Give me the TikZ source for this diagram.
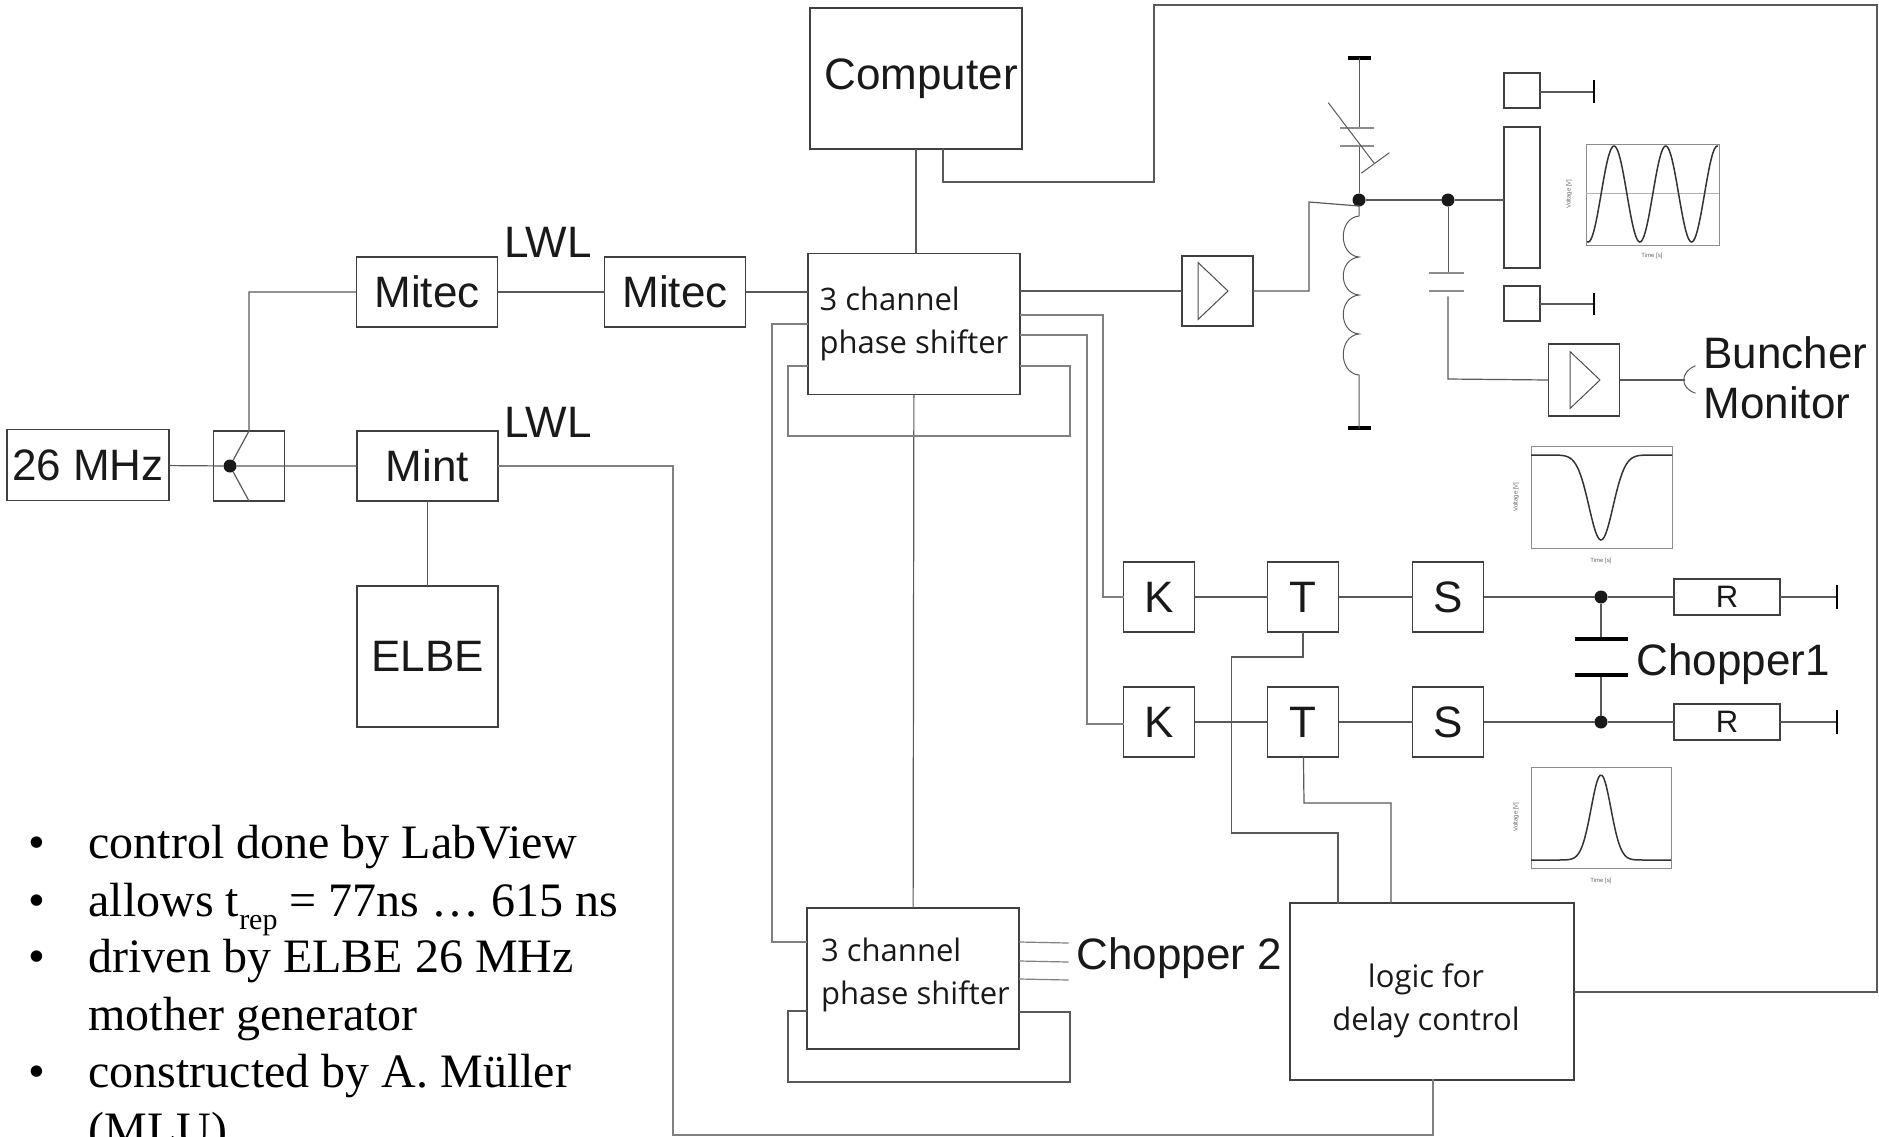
\documentclass[tikz,border=0pt]{standalone}
\usepackage{fontspec}
\setmainfont{Liberation Sans}
\newfontfamily\listfont{Liberation Serif}
\newfontfamily\boxfont{Open Sans}
\usetikzlibrary{positioning}

\begin{document}
\begin{tikzpicture}[x=1pt,y=-1pt,
  line width=1.2pt,
  wire/.style={draw=black!65,line cap=rect},
  graywire/.style={draw=black!50,line cap=rect},
  blk/.style={rectangle,draw=black!75,inner sep=0pt,text=black!90,font=\fontsize{44}{50}\selectfont},
  sbox/.style={blk,minimum width=71pt,minimum height=70pt},
  mbox/.style={blk,minimum width=141pt,minimum height=70pt},
  rbox/.style={blk,minimum width=106pt,minimum height=36pt,font=\fontsize{31}{36}\selectfont},
  psbox/.style={blk,minimum width=212pt,minimum height=141pt,align=left,font=\boxfont\fontsize{31}{43}\selectfont},
  boxtxt/.style={inner sep=0pt,text=black!90,font=\boxfont\fontsize{31}{43}\selectfont},
  lbl/.style={inner sep=0pt,anchor=base west,text=black!90,font=\fontsize{44}{50}\selectfont},
  item/.style={inner sep=0pt,anchor=base west,font=\listfont\fontsize{48}{58}\selectfont},
  jdot/.style={circle,fill=black!90,inner sep=0pt,minimum size=13pt},
  bar/.style={draw=black,line width=3.5pt},
  plate/.style={draw=black!45,line width=2pt},
  frm/.style={draw=black!45,line width=1pt},
  crv/.style={draw=black!80,line width=1.5pt},
  tick/.style={inner sep=0pt,text=black!60,font=\fontsize{6}{6}\selectfont}
]
  \clip (0,0) rectangle (1879,1136);

  % left part
  \node[blk,minimum width=162pt,minimum height=71pt] (Gen) at (88,465) {26 MHz};
  \node[sbox] (Split) at (249,466) {};
  \node[mbox] (Mint) at (427.5,466) {Mint};
  \node[blk,minimum width=141pt,minimum height=141pt] (Elbe) at (427.5,656.5) {ELBE};
  \node[mbox] (MitecA) at (427,292) {Mitec};
  \node[mbox] (MitecB) at (675,292) {Mitec};
  \node[jdot] (SplitDot) at (230,466) {};
  \node[lbl] (LwlA) at (504,257) {LWL};
  \node[lbl] (LwlB) at (504,437) {LWL};
  \coordinate (SplitTop) at (249,431);
  \coordinate (SplitBot) at (249,501);
  \draw[wire] (Gen) -- (SplitDot) -- (Mint);
  \draw[wire] (SplitDot) -- (SplitTop) |- (MitecA);
  \draw[wire] (SplitDot) -- (SplitBot);
  \draw[wire] (Mint) -- (Elbe);
  \draw[wire] (MitecA) -- (MitecB);

  % computer and phase shifters
  \node[blk,minimum width=212pt,minimum height=141pt] (Comp) at (916,78.5) {};
  \node[lbl] (CompTxt) at (824,89) {Computer};
  \node[psbox] (PsA) at (914,324) {3 channel\\phase shifter};
  \node[psbox] (PsB) at (913,978.5) {};
  \node[boxtxt,align=left] (PsBTxt) at (915.5,974.5) {3 channel\\phase shifter};
  \node[blk,minimum width=284pt,minimum height=177pt] (Logic) at (1432,991.5) {};
  \node[boxtxt,align=center] (LogicTxt) at (1426,1001) {logic for\\delay control};
  \node[lbl] (ChopB) at (1076,969) {Chopper 2};
  \draw[wire] (Comp) -- (Comp |- PsA.north);
  \draw[wire] (MitecB) -- (MitecB -| PsA.west);
  \draw[wire] (PsA) -- (PsB);
  \draw[graywire] (PsA.west |- 0,366) -- (788,366) -- (788,436) -- (1070,436) -- (1070,366) -- (PsA.east |- 0,366);
  \draw[graywire] (PsA.west |- 0,324) -- (772,324) -- (772,942) -- (PsB.west |- 0,942);
  \draw[wire] (PsB.west |- 0,1011) -- (788,1011) -- (788,1082) -- (1070,1082) -- (1070,1012) -- (PsB.east |- 0,1012);
  \foreach \y in {942,961,979} { \draw[graywire] (PsB.east |- 0,\y) -- (1068,\y+1); }
  \draw[wire] (943,149) -- (943,182) -- (1154,182) -- (1154,5) -- (1877,5) -- (1877,992) -- (Logic.east |- 0,992);
  \draw[graywire] (Mint) -- (673,466) -- (673,1135) -- (1433,1135) -- (1433,1080);

  % buncher
  \node[sbox] (AmpA) at (1217.5,291) {};
  \node[sbox,minimum height=72pt] (AmpB) at (1584,380) {};
  \foreach \n/\x/\y in {AmpA/1198/291,AmpB/1570/380} {
    \draw[draw=black!70,line width=1pt] (\x,\y-28.5) -- (\x,\y+28.5) -- (\x+30,\y) -- cycle;
  }
  \node[blk,minimum width=36pt,minimum height=35pt] (PadA) at (1522,90.5) {};
  \node[blk,minimum width=36pt,minimum height=141pt] (Cav) at (1522,197.5) {};
  \node[blk,minimum width=36pt,minimum height=35pt] (PadB) at (1522,303.5) {};
  \coordinate (GndA) at (1594,92);
  \coordinate (GndB) at (1594,304);
  \draw[wire] (PadA.east |- GndA) -- (GndA);
  \draw[wire] (PadB.east |- GndB) -- (GndB);
  \draw[bar,line width=2.5pt] (1594,80) -- (1594,103);
  \draw[bar,line width=2.5pt] (1594,293) -- (1594,315);
  \node[jdot] (DotA) at (1359,200) {};
  \node[jdot] (DotB) at (1448,200) {};
  \draw[wire] (DotA) -- (DotB) -- (Cav.west |- DotA);
  \draw[wire] (PsA.east |- AmpA) -- (AmpA);
  \draw[wire] (AmpA) -- (1309,291) -- (1309,202) -- (1359,206);
  % trimmer
  \coordinate (TopRail) at (1359,58);
  \coordinate (BotRail) at (1359,428);
  \draw[bar] (1347.5,58) -- (1370.5,58);
  \draw[bar] (1347.5,428) -- (1370.5,428);
  \draw[wire,line width=1pt] (TopRail) -- (1359,128);
  \draw[wire,line width=1pt] (1359,146) -- (DotA);
  \draw[plate] (1340,128) -- (1374,128);
  \draw[plate] (1340,146) -- (1374,146);
  \draw[wire,line width=1pt] (1328.5,103) -- (1374,163);
  \draw[wire,line width=1pt] (1361.5,173) -- (1389,153);
  % coil
  \draw[wire,line width=1pt] (DotA) -- (1359,216)
    .. controls (1338,218) and (1338,255) .. (1359,257)
    .. controls (1338,259) and (1338,293) .. (1359,295)
    .. controls (1338,297) and (1338,332) .. (1359,334)
    .. controls (1338,336) and (1338,373) .. (1359,375) -- (BotRail);
  % monitor
  \draw[wire,line width=1pt] (DotB) -- (1448,273);
  \draw[plate] (1429,273) -- (1464,273);
  \draw[plate] (1429,291) -- (1464,291);
  \draw[wire] (1448,297) -- (1448,379) -- (AmpB.west |- 0,380);
  \coordinate (Plug) at (1684,380);
  \draw[wire] (AmpB) -- (Plug);
  \draw[wire,line width=1pt] (1695,366) .. controls (1680,372) and (1680,388) .. (1695,393);
  \node[lbl] (BunchA) at (1703,368) {Buncher};
  \node[lbl] (BunchB) at (1703,418) {Monitor};

  % chopper channels
  \foreach \n/\y in {A/597,B/722} {
    \node[sbox] (K\n) at (1159,\y) {K};
    \node[sbox] (T\n) at (1303,\y) {T};
    \node[sbox] (S\n) at (1448,\y) {S};
    \node[jdot] (Tap\n) at (1601,\y) {};
    \node[rbox] (R\n) at (1727,\y) {R};
    \coordinate (End\n) at (1837,\y);
    \draw[wire] (K\n) -- (T\n) -- (S\n) -- (Tap\n) -- (R\n) -- (End\n);
    \draw[bar,line width=2.5pt] (1837,\y-12) -- (1837,\y+12);
  }
  \node[lbl] (ChopA) at (1636,675) {Chopper1};
  \draw[graywire] (PsA.east |- 0,315) -- (1103,315) -- (1103,597) -- (KA);
  \draw[graywire] (PsA.east |- 0,335) -- (1087,335) -- (1087,724) -- (KB.west |- 0,724);
  \draw[wire] (TA) -- (1303,657) -- (1231.5,657) -- (1231.5,833) -- (1338,833) -- (1338,903);
  \draw[wire] (TB) -- (1304,803) -- (1391,803) -- (1391,903);
  \draw[wire] (TapA) -- (1601,639);
  \draw[wire] (1601,675) -- (TapB);
  \draw[bar] (1574.5,639) -- (1628,639);
  \draw[bar] (1574.5,675) -- (1628,675);

  % scope traces
  \draw[frm] (1586,144) rectangle (1719,245);
  \draw[draw=black!30,line width=0.8pt] (1586,193.5) -- (1719,193.5);
  \draw[crv] plot[domain=1587:1718,samples=120,smooth] (\x,{194-48*cos((\x-1614)/51.7*360)});
  \draw[frm] (1531,446) rectangle (1672,548);
  \draw[crv] plot[domain=1531:1672,samples=80,smooth] (\x,{455+85*exp(-((\x-1601)/17)^2)});
  \draw[frm] (1531,767) rectangle (1671,868);
  \draw[crv] plot[domain=1531:1671,samples=80,smooth] (\x,{860-85*exp(-((\x-1601)/14)^2)});
  \foreach \n/\x/\y/\vx/\vy in {A/1652/256/1569/194,B/1601/561/1516/497,C/1601/881/1516/817} {
    \node[tick] (Time\n) at (\x,\y) {Time [s]};
    \node[tick,rotate=90] (Volt\n) at (\vx,\vy) {Voltage [V]};
  }

  % notes
  \foreach \y in {858,916,972,1087} { \node[item] at (28,\y) {•}; }
  \foreach \y/\t in {858/control done by LabView,972/driven by ELBE 26 MHz,1030/mother generator,1087/constructed by A. Müller,1145/(MLU)} {
    \node[item] at (88,\y) {\t};
  }
  \node[item] (Trep) at (88,916) {allows t\raisebox{-0.28em}{\fontsize{30}{30}\selectfont rep} = 77ns … 615 ns};
\end{tikzpicture}
\end{document}
